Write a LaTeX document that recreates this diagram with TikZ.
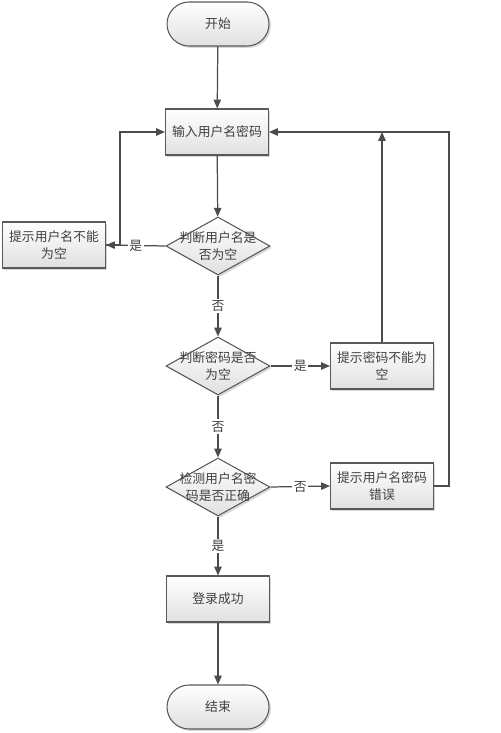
\documentclass[tikz,border=0pt]{standalone}
\usepackage{fontspec}
\newfontfamily\cjk{Noto Sans CJK SC}
\usetikzlibrary{shapes.geometric,shadows,arrows.meta}

\begin{document}
\begin{tikzpicture}[x=0.02cm,y=-0.02cm,
   font=\cjk\fontsize{7.3}{9.5}\selectfont, text=black!75,
   line/.style={draw=black!70, line width=0.7pt},
   arr/.style={line, -{Triangle[length=5pt,width=4.2pt]}},
   boxshade/.style={draw=black!65, line width=0.6pt, top color=white, bottom color=black!12,
      drop shadow={shadow xshift=1.1pt, shadow yshift=-1.1pt, fill=black!30}},
   proc/.style={boxshade, rectangle, minimum width=2.06cm, minimum height=0.92cm, align=center, inner sep=1pt},
   term/.style={boxshade, rectangle, rounded corners=0.44cm, minimum width=2.04cm, minimum height=0.88cm},
   dec/.style={boxshade, diamond, inner sep=0pt, minimum width=2.08cm, minimum height=1.16cm},
   lbl/.style={fill=white, inner sep=1pt}]
   \useasboundingbox (0,0) rectangle (500,733);
   % main column
   \node[term] (start) at (218,24) {开始};
   \node[proc] (input) at (217,132) {输入用户名密码};
   \node[dec, label={[align=center]center:判断用户名是\\否为空}] (d1) at (218,246) {};
   \node[dec, label={[align=center]center:判断密码是否\\为空}] (d2) at (218,366) {};
   \node[dec, label={[align=center]center:检测用户名密\\码是否正确}] (d3) at (218,487) {};
   \node[proc] (ok) at (218,599) {登录成功};
   \node[term] (stop) at (218,707) {结束};
   % side boxes
   \node[proc] (lbox) at (54,245) {提示用户名不能\\为空};
   \node[proc] (rbox2) at (382,366) {提示密码不能为\\空};
   \node[proc] (rbox3) at (382,486) {提示用户名密码\\错误};
   \coordinate (lc) at (120,245);
   \coordinate (rc) at (449,132);

   \draw[arr] (start) -- (input);
   \draw[arr] (input) -- (d1);
   \draw[arr] (d1) -- node[lbl] {否} (d2);
   \draw[arr] (d2) -- node[lbl] {否} (d3);
   \draw[arr] (d3) -- node[lbl] {是} (ok);
   \draw[arr] (ok) -- (stop);
   \draw[arr] (d1.west) -- node[lbl] {是} (lbox.east);
   \draw[arr] (d2.east) -- node[lbl] {是} (rbox2.west);
   \draw[arr] (d3.east) -- node[lbl] {否} (rbox3.west);
   % back to input
   \draw[arr] (lbox.east) -- (lc) |- (input.west);
   \draw[arr] (rbox2.north) -- (rbox2.north |- input.east);
   \draw[arr] (rbox3.east) -| (rc) -- (input.east);
\end{tikzpicture}
\end{document}
